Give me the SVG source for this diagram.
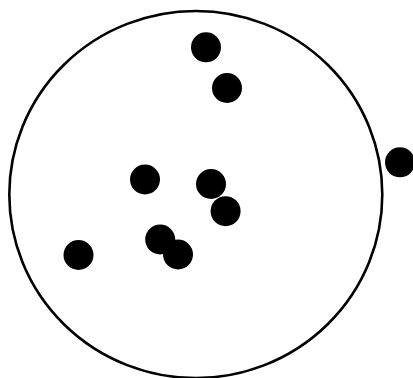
<svg xmlns="http://www.w3.org/2000/svg" width="413" height="378" viewBox="0 0 413 378">
<style>
.ring{fill:none;stroke:#000;stroke-width:2.6}
.dot{fill:#000}
</style>
<rect width="413" height="378" fill="#fff"/>
<ellipse id="ring" class="ring" cx="195.8" cy="194.5" rx="186.5" ry="183.5"/>
<g id="dots">
<circle class="dot" cx="206" cy="47.3" r="15"/>
<circle class="dot" cx="227" cy="88" r="15"/>
<circle class="dot" cx="145" cy="179.5" r="15"/>
<circle class="dot" cx="211" cy="184" r="15"/>
<circle class="dot" cx="225.6" cy="211.2" r="15"/>
<circle class="dot" cx="160.2" cy="239.5" r="15"/>
<circle class="dot" cx="178" cy="254.5" r="15"/>
<circle class="dot" cx="78.5" cy="255" r="15"/>
<circle class="dot" cx="400" cy="162.3" r="15"/>
</g>
</svg>
